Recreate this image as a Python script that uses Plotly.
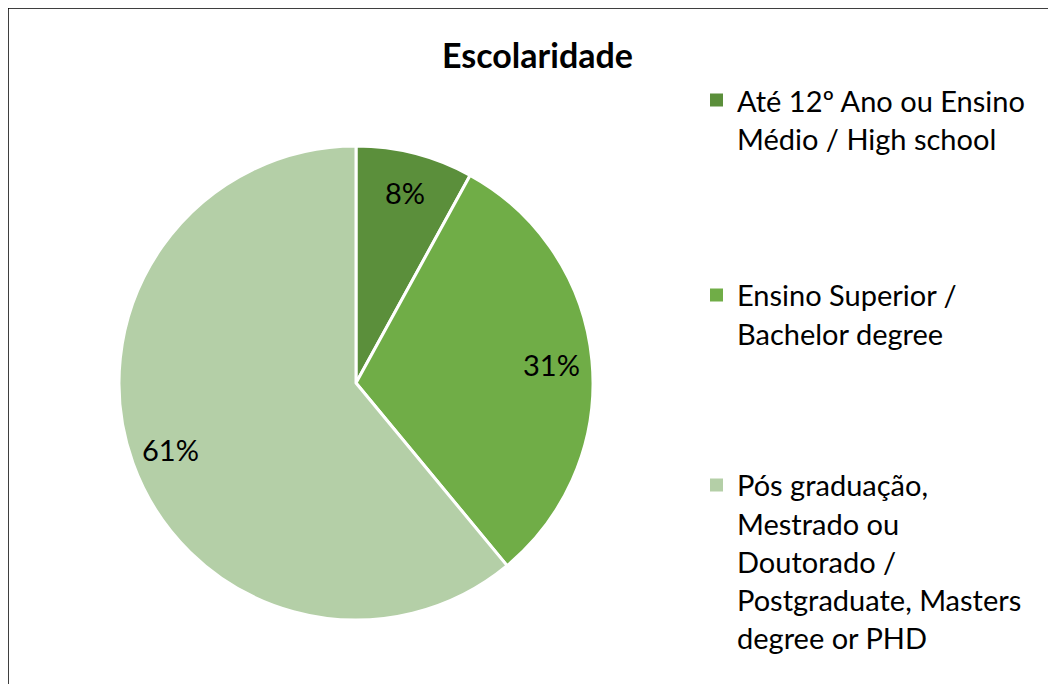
import math
import plotly.graph_objects as go

W, H = 1056, 684
OFF = 8  # page body margin

title = "Escolaridade"
categories = [
    "Até 12º Ano ou Ensino<br>Médio / High school",
    "Ensino Superior /<br>Bachelor degree",
    "Pós graduação,<br>Mestrado ou<br>Doutorado /<br>Postgraduate, Masters<br>degree or PHD",
]
values = [8, 31, 61]
colors = ["#5B8F3B", "#70AD47", "#B4CFA7"]

FONT = "Lato"


def px(x):
    return (x - OFF) / W


def py(y):
    return 1 - (y - OFF) / H


cx, cy, r = 356, 383, 237

fig = go.Figure()
fig.add_trace(go.Pie(
    labels=categories,
    values=values,
    sort=False,
    direction="clockwise",
    rotation=0,
    marker=dict(colors=colors, line=dict(color="white", width=3)),
    textinfo="none",
    showlegend=False,
    domain=dict(x=[px(cx - r), px(cx + r)], y=[py(cy + r), py(cy - r)]),
))

shapes = [dict(type="rect", xref="paper", yref="paper",
               x0=px(8), x1=1.05, y0=-0.05, y1=py(8),
               line=dict(color="black", width=1.5), fillcolor="rgba(0,0,0,0)")]
annotations = [dict(text="<b>" + title + "</b>", x=px(537), y=py(55), xref="paper", yref="paper",
                    showarrow=False, font=dict(family=FONT, size=34, color="black"),
                    xanchor="center", yanchor="middle")]

# percentage labels, placed along each slice's mid angle
total = sum(values)
cum = 0
for v in values:
    mid = (cum + v / 2) / total * 2 * math.pi
    cum += v
    lx = cx + 0.83 * r * math.sin(mid)
    ly = cy - 0.83 * r * math.cos(mid)
    annotations.append(dict(text=f"{round(v / total * 100)}%", x=px(lx), y=py(ly),
                            xref="paper", yref="paper", showarrow=False,
                            xanchor="center", yanchor="middle",
                            font=dict(family=FONT, size=29, color="black")))

# custom legend
starts = [100, 295, 485]
line_h = 38.2
for cat, col, y0 in zip(categories, colors, starts):
    shapes.append(dict(type="rect", xref="paper", yref="paper",
                       x0=px(710), x1=px(723), y0=py(y0 + 6.5), y1=py(y0 - 6.5),
                       fillcolor=col, line=dict(width=0)))
    for i, line in enumerate(cat.split("<br>")):
        annotations.append(dict(text=line, x=px(735), y=py(y0 + i * line_h),
                                xref="paper", yref="paper", showarrow=False,
                                xanchor="left", yanchor="middle",
                                font=dict(family=FONT, size=29, color="black")))

fig.update_layout(
    width=W, height=H,
    margin=dict(l=0, r=0, t=0, b=0),
    paper_bgcolor="white", plot_bgcolor="white",
    shapes=shapes, annotations=annotations,
)

fig.write_html("out.html")
